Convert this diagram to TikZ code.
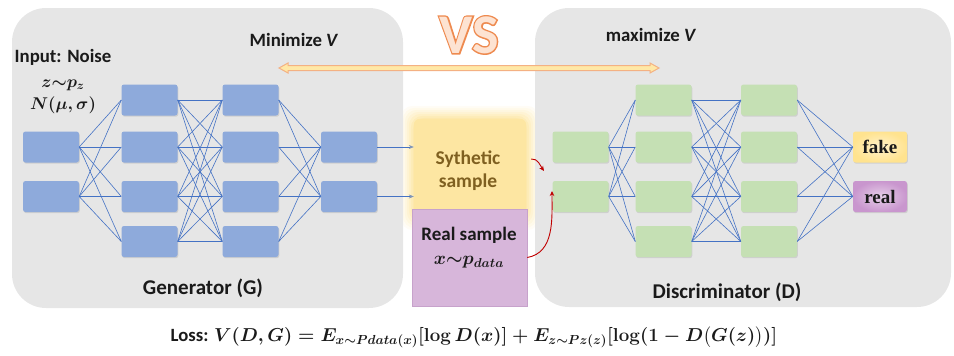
\RequirePackage{fix-cm}
\documentclass[tikz,border=0pt]{standalone}
\usepackage[no-math]{fontspec}
\setmainfont{Carlito}
\newfontfamily\serifbold{Liberation Serif}
\newfontfamily\vsheavy[FakeBold=5]{Carlito}
\usepackage{amsmath}
\usetikzlibrary{shadows,calc,arrows.meta}
\pgfdeclarelayer{bg}
\pgfsetlayers{bg,main}

\definecolor{panelgray}{HTML}{E6E6E6}
\definecolor{gblue}{HTML}{8EAADB}
\definecolor{dgreen}{HTML}{C5E0B4}
\definecolor{linkblue}{HTML}{4472C4}
\definecolor{txt}{HTML}{1A1A1A}
\definecolor{synthfill}{HTML}{FDE6A2}
\definecolor{synthtext}{HTML}{7F6020}
\definecolor{realfill}{HTML}{D7B6DA}
\definecolor{realedge}{HTML}{C7A2CB}
\definecolor{fakefill}{HTML}{FFE38F}
\definecolor{realout}{HTML}{C996CE}
\definecolor{vsorange}{HTML}{EE8A4F}
\definecolor{vsfill}{HTML}{FDE3D2}
\definecolor{arrfill}{HTML}{FFE8A6}
\definecolor{arredge}{HTML}{F4B183}
\definecolor{darkred}{HTML}{C00000}
\definecolor{tipgray}{HTML}{7F95B8}

\begin{document}
\begin{tikzpicture}[x=1pt,y=-1pt,
  panel/.style={fill=panelgray, rounded corners=34pt},
  cell/.style={rounded corners=2.5pt, minimum width=56pt, minimum height=31pt,
    inner sep=0pt, drop shadow={opacity=0.22, shadow xshift=0.8pt, shadow yshift=-1.2pt}},
  gcell/.style={cell, fill=gblue},
  dcell/.style={cell, fill=dgreen},
  outcell/.style={cell, minimum width=54pt, inner color=#1!45!white, outer color=#1},
  link/.style={draw=linkblue, line width=0.6pt},
  lbl/.style={text=txt, font=\bfseries\fontsize{18.8}{22}\selectfont},
  biglbl/.style={text=txt, font=\bfseries\fontsize{21}{24}\selectfont},
  mathlbl/.style={text=txt, font=\fontsize{17}{20}\selectfont},
  outlbl/.style={text=txt, font=\serifbold\bfseries\fontsize{19}{22}\selectfont},
  redarr/.style={draw=darkred, line width=0.9pt, -{Stealth[length=5pt,width=4.5pt]}},
  feed/.style={draw=linkblue, line width=0.6pt, -{Stealth[length=5pt,width=4pt,color=tipgray]}},
]
\useasboundingbox (0,0) rectangle (954,356);

% panels
\fill[panel] (12,8) rectangle (403,308);
\fill[panel] (535,8) rectangle (951,307);

% VS heading: a heavy orange copy under a light one gives the outline
\node[text=vsorange, font=\vsheavy\bfseries\fontsize{56}{60}\selectfont] (vsline) at (469,35) {VS};
\node[text=vsfill, font=\bfseries\fontsize{56}{60}\selectfont] (vs) at (469,35) {VS};

% double-headed block arrow
\filldraw[fill=arrfill, draw=arredge, line width=1pt]
  (279,68) -- (288,63) -- (288,65.5) -- (650,65.5) -- (650,63) -- (659,68)
  -- (650,73) -- (650,70.5) -- (288,70.5) -- (288,73) -- cycle;
\node[lbl] (minv) at (294,40) {Minimize \textit{V}};
\node[lbl] (maxv) at (651,35) {maximize \textit{V}};

% generator
\node[lbl] (inlbl) at (63,57) {Input: Noise};
\node[mathlbl] (zlbl) at (63,85) {$\boldsymbol{z{\sim}p_z}$};
\node[mathlbl] (nlbl) at (63,105) {$\boldsymbol{N(\mu,\sigma)}$};

\foreach \r/\y in {1/147,2/196.5}
  \node[gcell] (g1-\r) at (51,\y) {};
\foreach \r/\y in {1/100,2/147,3/196.5,4/241.5} {
  \node[gcell] (g2-\r) at (149.5,\y) {};
  \node[gcell] (g3-\r) at (250.5,\y) {};
}
\foreach \r/\y in {1/147,2/196.5}
  \node[gcell] (g4-\r) at (349,\y) {};

\foreach \i in {1,2} \foreach \j in {1,...,4}
  \draw[link] (g1-\i.east) -- (g2-\j.west);
\foreach \i in {1,...,4} \foreach \j in {1,...,4}
  \draw[link] (g2-\i.east) -- (g3-\j.west);
\foreach \i in {1,...,4} \foreach \j in {1,2}
  \draw[link] (g3-\i.east) -- (g4-\j.west);

\node[biglbl] (glbl) at (203,288) {Generator (G)};

% synthetic sample with soft glow
\node[minimum width=112pt, minimum height=98pt, inner sep=0pt] (syn) at (470,168) {};
\begin{pgfonlayer}{bg}
  \foreach \e/\o in {13/0.10,11/0.12,9/0.15,7/0.2,5/0.28,3/0.4,1/0.55} {
    \fill[synthfill, opacity=\o, rounded corners=12pt]
      ($(syn.north west)+(-\e,-\e)$) rectangle ($(syn.south east)+(\e,\e)$);
  }
  \fill[synthfill, rounded corners=6pt] (syn.north west) rectangle (syn.south east);
\end{pgfonlayer}
\node[text=synthtext, font=\bfseries\fontsize{19.5}{23}\selectfont, align=center]
  (synlbl) at (468,171) {Sythetic\\sample};

\draw[feed] (g4-1.east) -- (g4-1.east -| syn.west);
\draw[feed] (g4-2.east) -- (g4-2.east -| syn.west);

% real sample
\node[fill=realfill, draw=realedge, line width=0.6pt, minimum width=115pt,
  minimum height=97pt, inner sep=0pt] (rs) at (469.5,257.5) {};
\node[biglbl, font=\bfseries\fontsize{19}{22}\selectfont] (rslbl) at (469,235) {Real sample};
\node[mathlbl, font=\fontsize{18.5}{22}\selectfont] (rsmath) at (469,262) {$\boldsymbol{x{\sim}p_{data}}$};

% discriminator
\foreach \r/\y in {1/147,2/196.5}
  \node[dcell] (d1-\r) at (580.5,\y) {};
\foreach \r/\y in {1/100,2/147,3/196.5,4/241.5} {
  \node[dcell] (d2-\r) at (663.5,\y) {};
  \node[dcell] (d3-\r) at (769,\y) {};
}
\node[outcell=fakefill] (fake) at (880,147) {};
\node[outcell=realout] (real) at (880,196.5) {};
\node[outlbl] at (fake) {fake};
\node[outlbl] at (real) {real};

\foreach \i in {1,2} \foreach \j in {1,...,4}
  \draw[link] (d1-\i.east) -- (d2-\j.west);
\foreach \i in {1,...,4} \foreach \j in {1,...,4}
  \draw[link] (d2-\i.east) -- (d3-\j.west);
\foreach \i in {1,...,4} {
  \draw[link] (d3-\i.east) -- (fake.west);
  \draw[link] (d3-\i.east) -- (real.west);
}

\node[biglbl] (dlbl) at (727,292) {Discriminator (D)};

% samples fed to the discriminator
\coordinate (synhit) at (544,171);
\coordinate (realhit) at (552,191);
\draw[redarr] ($(syn.east)+(5,-9)$) to[out=5,in=125] (synhit);
\draw[redarr] (rs.east) to[out=10,in=-90] (realhit);

% loss
\node[text=txt, font=\fontsize{18.7}{22}\selectfont] (loss) at (474,337)
  {\textbf{Loss:} $\boldsymbol{V(D,G)=E_{x\sim Pdata(x)}[\log D(x)]+E_{z\sim Pz(z)}[\log(1-D\big(G(z)\big))]}$};
\end{tikzpicture}
\end{document}
